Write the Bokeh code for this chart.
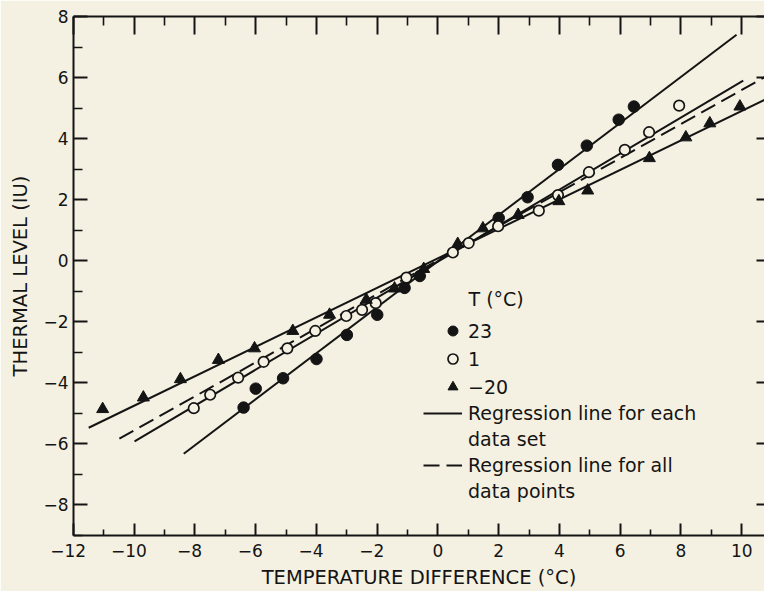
from bokeh.plotting import figure
from bokeh.models import (LinearAxis, FixedTicker, Range1d, Legend, LegendItem, Label)
from bokeh.embed import file_html
from bokeh.resources import INLINE

# ---------------- data ----------------
t23_x = [-6.4, -6.0, -5.1, -4.0, -3.0, -2.0, -1.1, -0.6, 2.0, 2.95, 3.95, 4.9, 5.95, 6.45]
t23_y = [-4.81, -4.19, -3.85, -3.22, -2.43, -1.77, -0.89, -0.5, 1.40, 2.08, 3.14, 3.77, 4.62, 5.05]

t1_x = [-8.04, -7.5, -6.58, -5.74, -4.96, -4.04, -3.02, -2.5, -2.05, -1.04,
        0.49, 1.01, 1.98, 3.32, 3.95, 4.97, 6.15, 6.95, 7.94]
t1_y = [-4.83, -4.39, -3.83, -3.31, -2.87, -2.30, -1.81, -1.61, -1.39, -0.55,
        0.27, 0.58, 1.13, 1.64, 2.15, 2.90, 3.63, 4.21, 5.08]

tm20_x = [-11.04, -9.7, -8.48, -7.23, -6.04, -4.78, -3.57, -2.36, -1.43, -0.47,
          0.65, 1.48, 2.64, 3.98, 4.93, 6.96, 8.16, 8.95, 9.94]
tm20_y = [-4.86, -4.48, -3.88, -3.25, -2.87, -2.30, -1.77, -1.28, -0.91, -0.27,
          0.55, 1.06, 1.50, 1.95, 2.30, 3.36, 4.04, 4.50, 5.05]

# regression line end points
reg23_x = [-8.37, 9.83]
reg23_y = [-6.32, 7.40]
reg1_x = [-9.99, 10.05]
reg1_y = [-5.92, 5.90]
regm20_x = [-11.5, 11.0]
regm20_y = [-5.47, 5.39]
regall_x = [-10.49, 11.0]
regall_y = [-5.83, 6.15]

x_ticks = [-12, -10, -8, -6, -4, -2, 0, 2, 4, 6, 8, 10]
x_minor = [-11, -9, -7, -5, -3, -1, 1, 3, 5, 7, 9]
y_ticks = [-8, -6, -4, -2, 0, 2, 4, 6, 8]
y_minor = [-9, -7, -5, -3, -1, 1, 3, 5, 7]

legend_series = ["23", "1", "\u221220"]
legend_lines = ["Regression line for each", "data set",
                "Regression line for all", "data points"]
legend_title = "T (\u00b0C)"
x_title = "TEMPERATURE DIFFERENCE (\u00b0C)"
y_title = "THERMAL LEVEL (IU)"

# ---------------- style ----------------
BG = "#f4f1e2"
INK = "#141414"
FONT = "DejaVu Sans"

p = figure(width=764, height=591,
           x_range=Range1d(-12, 10.75), y_range=Range1d(-9, 8),
           output_backend="svg", toolbar_location=None,
           background_fill_color=BG, border_fill_color=BG,
           min_border_left=73, min_border_right=0,
           min_border_top=16, min_border_bottom=56,
           x_axis_label=x_title, y_axis_label=y_title)
p.grid.visible = False
p.outline_line_color = None


def label_str(v, pad=""):
    return (("\u2212" + str(-v)) if v < 0 else str(v)) + (pad if v < 0 else "")


def style_axis(ax, ticks, minor, tick_in, minor_in, labels=True):
    ax.ticker = FixedTicker(ticks=ticks, minor_ticks=minor)
    ax.axis_line_color = INK
    ax.axis_line_width = 2
    ax.major_tick_line_color = INK
    ax.major_tick_line_width = 2
    ax.minor_tick_line_color = INK if minor_in else None
    ax.minor_tick_line_width = 1.6
    ax.major_tick_in = tick_in
    ax.major_tick_out = 0
    ax.minor_tick_in = minor_in
    ax.minor_tick_out = 0
    if not labels:
        ax.major_label_overrides = {v: "" for v in ticks}
        ax.major_label_standoff = 0


xb = p.xaxis[0]
style_axis(xb, x_ticks, x_minor, 12, 6)
xb.major_label_overrides = {v: label_str(v, "\u2007") for v in x_ticks}
xb.major_label_text_font = FONT
xb.major_label_text_font_size = "17px"
xb.major_label_text_color = INK
xb.major_label_standoff = 5
xb.axis_label_text_font = FONT
xb.axis_label_text_font_size = "19.5px"
xb.axis_label_text_font_style = "normal"
xb.axis_label_text_color = INK
xb.axis_label_standoff = 2

yl = p.yaxis[0]
style_axis(yl, y_ticks, y_minor, 14, 9)
yl.major_label_overrides = {v: label_str(v) for v in y_ticks}
yl.major_label_text_font = FONT
yl.major_label_text_font_size = "17px"
yl.major_label_text_color = INK
yl.major_label_standoff = 5
yl.axis_label_text_font = FONT
yl.axis_label_text_font_size = "19.5px"
yl.axis_label_text_font_style = "normal"
yl.axis_label_text_color = INK
yl.axis_label_standoff = 8

xt = LinearAxis()
style_axis(xt, x_ticks, x_minor, 18, 9, labels=False)
p.add_layout(xt, "above")

yr = LinearAxis()
style_axis(yr, y_ticks, [], 8, 0, labels=False)
yr.axis_line_color = None
p.add_layout(yr, "right")

# ---------------- regression lines ----------------
l23 = p.line(reg23_x, reg23_y, line_color=INK, line_width=2)
p.line(reg1_x, reg1_y, line_color=INK, line_width=2)
p.line(regm20_x, regm20_y, line_color=INK, line_width=2)
l_all = p.line(regall_x, regall_y, line_color=INK, line_width=2, line_dash="16 7")

# ---------------- points ----------------
r23 = p.scatter(t23_x, t23_y, marker="circle", size=11.5,
                fill_color=INK, line_color=INK, line_width=1)
r1 = p.scatter(t1_x, t1_y, marker="circle", size=10.5,
               fill_color=BG, line_color=INK, line_width=1.7)
rm20 = p.scatter(tm20_x, tm20_y, marker="triangle", size=12,
                 fill_color=INK, line_color=INK, line_width=1)

# invisible renderer used for the second lines of the wrapped legend labels
blank = p.line(reg1_x, reg1_y, line_alpha=0)


# ---------------- legends ----------------
def legend_common(lg):
    lg.label_text_font = FONT
    lg.label_text_font_size = "19px"
    lg.label_text_color = INK
    lg.padding = 0
    lg.margin = 0
    lg.border_line_color = None
    lg.background_fill_alpha = 0


leg1 = Legend(items=[LegendItem(label=legend_series[0], renderers=[r23]),
                     LegendItem(label=legend_series[1], renderers=[r1]),
                     LegendItem(label=legend_series[2], renderers=[rm20])],
              location=(367, 136))
legend_common(leg1)
leg1.glyph_width = 25
leg1.glyph_height = 25
leg1.label_height = 25
leg1.label_standoff = 3
leg1.spacing = 3
p.add_layout(leg1, "center")

leg2 = Legend(items=[LegendItem(label=legend_lines[0], renderers=[l23]),
                     LegendItem(label=legend_lines[1], renderers=[blank]),
                     LegendItem(label=legend_lines[2], renderers=[l_all]),
                     LegendItem(label=legend_lines[3], renderers=[blank])],
              location=(350, 33))
legend_common(leg2)
leg2.glyph_width = 39
leg2.glyph_height = 22
leg2.label_height = 22
leg2.label_standoff = 6
leg2.spacing = 4
p.add_layout(leg2, "center")

p.add_layout(Label(x=395, y=237, x_units="screen", y_units="screen",
                   text=legend_title, text_font=FONT, text_font_size="19px",
                   text_color=INK, text_baseline="middle", text_align="left"))

open("out.html", "w").write(file_html(p, INLINE))
